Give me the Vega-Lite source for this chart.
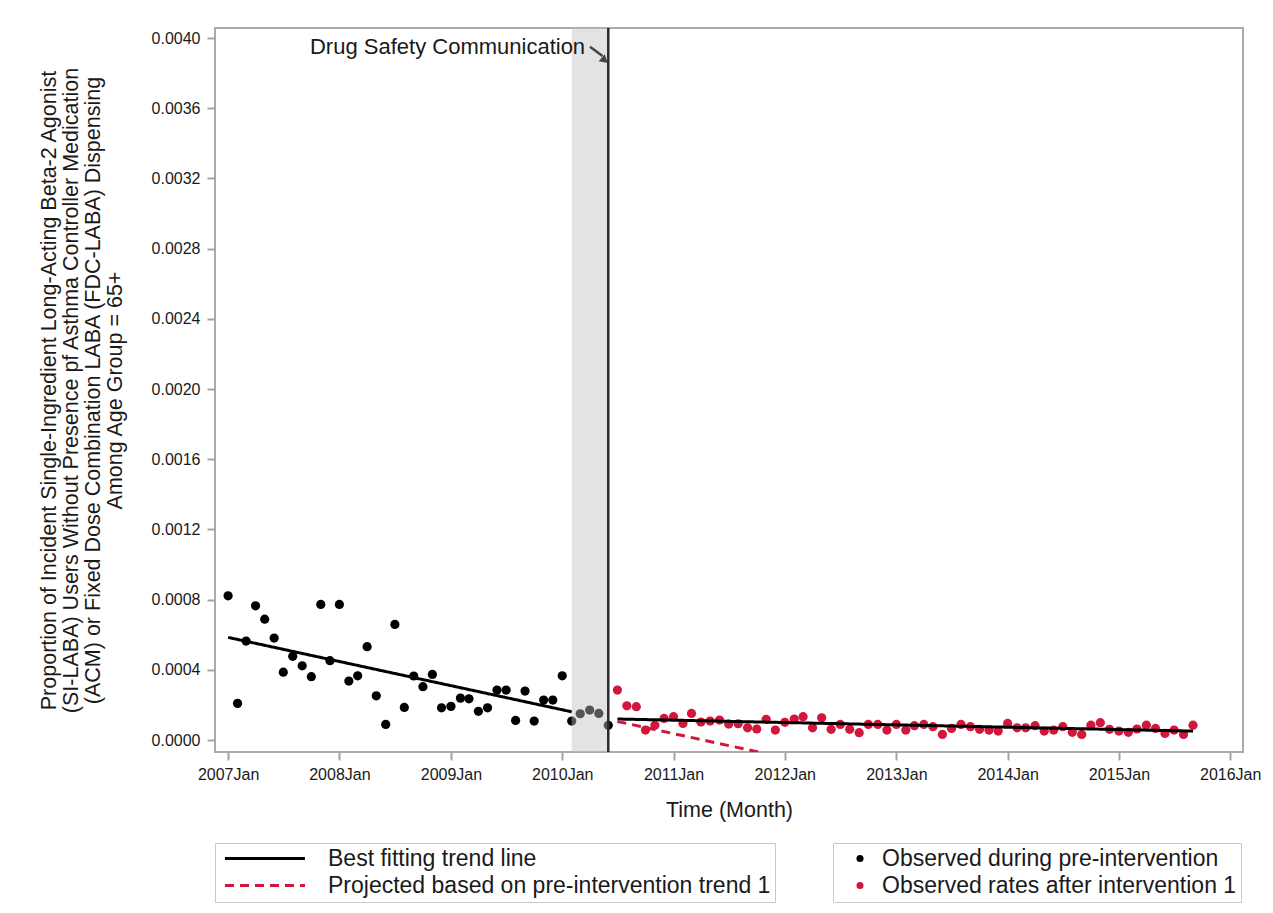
{
  "$schema": "https://vega.github.io/schema/vega-lite/v6.json",
  "width": 1028,
  "height": 724,
  "autosize": {"type": "none"},
  "padding": {"left": 215, "top": 28, "right": 30, "bottom": 161},
  "background": "white",
  "config": {
    "view": {"stroke": "#a8abb0", "strokeWidth": 2},
    "font": "Liberation Sans",
    "axis": {
      "labelFont": "Liberation Sans", "labelFontSize": 16, "labelColor": "#1a1a1a",
      "titleFont": "Liberation Sans", "titleFontSize": 21.5, "titleFontWeight": "normal", "titleColor": "#1a1a1a",
      "tickColor": "#a0a4a8", "tickSize": 8, "tickWidth": 2, "domain": false, "grid": false
    },
    "legend": {
      "labelFont": "Liberation Sans", "labelFontSize": 23, "labelColor": "#1a1a1a",
      "strokeColor": "#c8c8c8", "padding": 4, "rowPadding": 3, "labelLimit": 700
    }
  },
  "datasets": {
    "points": [
      {"date": "2007-01-01", "rate": 0.000822, "group": "Observed during pre-intervention"},
      {"date": "2007-02-01", "rate": 0.000209, "group": "Observed during pre-intervention"},
      {"date": "2007-03-01", "rate": 0.000564, "group": "Observed during pre-intervention"},
      {"date": "2007-04-01", "rate": 0.000765, "group": "Observed during pre-intervention"},
      {"date": "2007-05-01", "rate": 0.000689, "group": "Observed during pre-intervention"},
      {"date": "2007-06-01", "rate": 0.000581, "group": "Observed during pre-intervention"},
      {"date": "2007-07-01", "rate": 0.000387, "group": "Observed during pre-intervention"},
      {"date": "2007-08-01", "rate": 0.000477, "group": "Observed during pre-intervention"},
      {"date": "2007-09-01", "rate": 0.000423, "group": "Observed during pre-intervention"},
      {"date": "2007-10-01", "rate": 0.000361, "group": "Observed during pre-intervention"},
      {"date": "2007-11-01", "rate": 0.000773, "group": "Observed during pre-intervention"},
      {"date": "2007-12-01", "rate": 0.000452, "group": "Observed during pre-intervention"},
      {"date": "2008-01-01", "rate": 0.000773, "group": "Observed during pre-intervention"},
      {"date": "2008-02-01", "rate": 0.000336, "group": "Observed during pre-intervention"},
      {"date": "2008-03-01", "rate": 0.000366, "group": "Observed during pre-intervention"},
      {"date": "2008-04-01", "rate": 0.000532, "group": "Observed during pre-intervention"},
      {"date": "2008-05-01", "rate": 0.000252, "group": "Observed during pre-intervention"},
      {"date": "2008-06-01", "rate": 0.000089, "group": "Observed during pre-intervention"},
      {"date": "2008-07-01", "rate": 0.000659, "group": "Observed during pre-intervention"},
      {"date": "2008-08-01", "rate": 0.000186, "group": "Observed during pre-intervention"},
      {"date": "2008-09-01", "rate": 0.000365, "group": "Observed during pre-intervention"},
      {"date": "2008-10-01", "rate": 0.000304, "group": "Observed during pre-intervention"},
      {"date": "2008-11-01", "rate": 0.000374, "group": "Observed during pre-intervention"},
      {"date": "2008-12-01", "rate": 0.000184, "group": "Observed during pre-intervention"},
      {"date": "2009-01-01", "rate": 0.000192, "group": "Observed during pre-intervention"},
      {"date": "2009-02-01", "rate": 0.000239, "group": "Observed during pre-intervention"},
      {"date": "2009-03-01", "rate": 0.000235, "group": "Observed during pre-intervention"},
      {"date": "2009-04-01", "rate": 0.000164, "group": "Observed during pre-intervention"},
      {"date": "2009-05-01", "rate": 0.000184, "group": "Observed during pre-intervention"},
      {"date": "2009-06-01", "rate": 0.000285, "group": "Observed during pre-intervention"},
      {"date": "2009-07-01", "rate": 0.000285, "group": "Observed during pre-intervention"},
      {"date": "2009-08-01", "rate": 0.000112, "group": "Observed during pre-intervention"},
      {"date": "2009-09-01", "rate": 0.000279, "group": "Observed during pre-intervention"},
      {"date": "2009-10-01", "rate": 0.000108, "group": "Observed during pre-intervention"},
      {"date": "2009-11-01", "rate": 0.000228, "group": "Observed during pre-intervention"},
      {"date": "2009-12-01", "rate": 0.000228, "group": "Observed during pre-intervention"},
      {"date": "2010-01-01", "rate": 0.000366, "group": "Observed during pre-intervention"},
      {"date": "2010-02-01", "rate": 0.000108, "group": "Observed during pre-intervention"},
      {"date": "2010-03-01", "rate": 0.000150, "group": "Observed during pre-intervention"},
      {"date": "2010-04-01", "rate": 0.000171, "group": "Observed during pre-intervention"},
      {"date": "2010-05-01", "rate": 0.000152, "group": "Observed during pre-intervention"},
      {"date": "2010-06-01", "rate": 0.000084, "group": "Observed during pre-intervention"},
      {"date": "2010-07-01", "rate": 0.000285, "group": "Observed rates after intervention 1"},
      {"date": "2010-08-01", "rate": 0.000195, "group": "Observed rates after intervention 1"},
      {"date": "2010-09-01", "rate": 0.000190, "group": "Observed rates after intervention 1"},
      {"date": "2010-10-01", "rate": 0.000057, "group": "Observed rates after intervention 1"},
      {"date": "2010-11-01", "rate": 0.000085, "group": "Observed rates after intervention 1"},
      {"date": "2010-12-01", "rate": 0.000123, "group": "Observed rates after intervention 1"},
      {"date": "2011-01-01", "rate": 0.000133, "group": "Observed rates after intervention 1"},
      {"date": "2011-02-01", "rate": 0.000095, "group": "Observed rates after intervention 1"},
      {"date": "2011-03-01", "rate": 0.000152, "group": "Observed rates after intervention 1"},
      {"date": "2011-04-01", "rate": 0.000103, "group": "Observed rates after intervention 1"},
      {"date": "2011-05-01", "rate": 0.000108, "group": "Observed rates after intervention 1"},
      {"date": "2011-06-01", "rate": 0.000114, "group": "Observed rates after intervention 1"},
      {"date": "2011-07-01", "rate": 0.000091, "group": "Observed rates after intervention 1"},
      {"date": "2011-08-01", "rate": 0.000093, "group": "Observed rates after intervention 1"},
      {"date": "2011-09-01", "rate": 0.000070, "group": "Observed rates after intervention 1"},
      {"date": "2011-10-01", "rate": 0.000063, "group": "Observed rates after intervention 1"},
      {"date": "2011-11-01", "rate": 0.000118, "group": "Observed rates after intervention 1"},
      {"date": "2011-12-01", "rate": 0.000057, "group": "Observed rates after intervention 1"},
      {"date": "2012-01-01", "rate": 0.000101, "group": "Observed rates after intervention 1"},
      {"date": "2012-02-01", "rate": 0.000120, "group": "Observed rates after intervention 1"},
      {"date": "2012-03-01", "rate": 0.000133, "group": "Observed rates after intervention 1"},
      {"date": "2012-04-01", "rate": 0.000070, "group": "Observed rates after intervention 1"},
      {"date": "2012-05-01", "rate": 0.000127, "group": "Observed rates after intervention 1"},
      {"date": "2012-06-01", "rate": 0.000061, "group": "Observed rates after intervention 1"},
      {"date": "2012-07-01", "rate": 0.000089, "group": "Observed rates after intervention 1"},
      {"date": "2012-08-01", "rate": 0.000061, "group": "Observed rates after intervention 1"},
      {"date": "2012-09-01", "rate": 0.000042, "group": "Observed rates after intervention 1"},
      {"date": "2012-10-01", "rate": 0.000089, "group": "Observed rates after intervention 1"},
      {"date": "2012-11-01", "rate": 0.000089, "group": "Observed rates after intervention 1"},
      {"date": "2012-12-01", "rate": 0.000057, "group": "Observed rates after intervention 1"},
      {"date": "2013-01-01", "rate": 0.000089, "group": "Observed rates after intervention 1"},
      {"date": "2013-02-01", "rate": 0.000057, "group": "Observed rates after intervention 1"},
      {"date": "2013-03-01", "rate": 0.000082, "group": "Observed rates after intervention 1"},
      {"date": "2013-04-01", "rate": 0.000089, "group": "Observed rates after intervention 1"},
      {"date": "2013-05-01", "rate": 0.000076, "group": "Observed rates after intervention 1"},
      {"date": "2013-06-01", "rate": 0.000032, "group": "Observed rates after intervention 1"},
      {"date": "2013-07-01", "rate": 0.000066, "group": "Observed rates after intervention 1"},
      {"date": "2013-08-01", "rate": 0.000089, "group": "Observed rates after intervention 1"},
      {"date": "2013-09-01", "rate": 0.000076, "group": "Observed rates after intervention 1"},
      {"date": "2013-10-01", "rate": 0.000061, "group": "Observed rates after intervention 1"},
      {"date": "2013-11-01", "rate": 0.000057, "group": "Observed rates after intervention 1"},
      {"date": "2013-12-01", "rate": 0.000051, "group": "Observed rates after intervention 1"},
      {"date": "2014-01-01", "rate": 0.000095, "group": "Observed rates after intervention 1"},
      {"date": "2014-02-01", "rate": 0.000070, "group": "Observed rates after intervention 1"},
      {"date": "2014-03-01", "rate": 0.000070, "group": "Observed rates after intervention 1"},
      {"date": "2014-04-01", "rate": 0.000082, "group": "Observed rates after intervention 1"},
      {"date": "2014-05-01", "rate": 0.000051, "group": "Observed rates after intervention 1"},
      {"date": "2014-06-01", "rate": 0.000057, "group": "Observed rates after intervention 1"},
      {"date": "2014-07-01", "rate": 0.000076, "group": "Observed rates after intervention 1"},
      {"date": "2014-08-01", "rate": 0.000044, "group": "Observed rates after intervention 1"},
      {"date": "2014-09-01", "rate": 0.000032, "group": "Observed rates after intervention 1"},
      {"date": "2014-10-01", "rate": 0.000085, "group": "Observed rates after intervention 1"},
      {"date": "2014-11-01", "rate": 0.000099, "group": "Observed rates after intervention 1"},
      {"date": "2014-12-01", "rate": 0.000061, "group": "Observed rates after intervention 1"},
      {"date": "2015-01-01", "rate": 0.000051, "group": "Observed rates after intervention 1"},
      {"date": "2015-02-01", "rate": 0.000044, "group": "Observed rates after intervention 1"},
      {"date": "2015-03-01", "rate": 0.000063, "group": "Observed rates after intervention 1"},
      {"date": "2015-04-01", "rate": 0.000085, "group": "Observed rates after intervention 1"},
      {"date": "2015-05-01", "rate": 0.000066, "group": "Observed rates after intervention 1"},
      {"date": "2015-06-01", "rate": 0.000038, "group": "Observed rates after intervention 1"},
      {"date": "2015-07-01", "rate": 0.000057, "group": "Observed rates after intervention 1"},
      {"date": "2015-08-01", "rate": 0.000032, "group": "Observed rates after intervention 1"},
      {"date": "2015-09-01", "rate": 0.000085, "group": "Observed rates after intervention 1"}
    ],
    "trends": [
      {"date": "2007-01-01", "rate": 0.000585, "series": "Best fitting trend line", "segment": "pre"},
      {"date": "2010-02-01", "rate": 0.000161, "series": "Best fitting trend line", "segment": "pre"},
      {"date": "2010-07-01", "rate": 0.000120, "series": "Best fitting trend line", "segment": "post"},
      {"date": "2015-09-01", "rate": 0.000051, "series": "Best fitting trend line", "segment": "post"},
      {"date": "2010-07-01", "rate": 0.000106, "series": "Projected based on pre-intervention trend 1", "segment": "projected"},
      {"date": "2015-09-01", "rate": -0.000605, "series": "Projected based on pre-intervention trend 1", "segment": "projected"}
    ],
    "events": [
      {"start": "2010-02-01", "end": "2010-06-01"}
    ],
    "annotation": [
      {"label": "Drug Safety Communication", "date": "2010-03-17", "rate": 0.00395, "arrow_from": "2010-04-02", "arrow_to": "2010-05-13", "arrow_rate_from": 0.00395, "arrow_rate_to": 0.003898, "head_date": "2010-05-17", "head_rate": 0.003878}
    ]
  },
  "encoding": {
    "x": {
      "field": "date", "type": "temporal",
      "scale": {"type": "utc", "domain": [{"year": 2006, "month": 11, "date": 19, "utc": true}, {"year": 2016, "month": 2, "date": 12, "utc": true}]},
      "axis": {
        "title": "Time (Month)", "titlePadding": 17, "labelPadding": 6,
        "values": [
          {"year": 2007, "month": 1, "date": 1, "utc": true}, {"year": 2008, "month": 1, "date": 1, "utc": true},
          {"year": 2009, "month": 1, "date": 1, "utc": true}, {"year": 2010, "month": 1, "date": 1, "utc": true},
          {"year": 2011, "month": 1, "date": 1, "utc": true}, {"year": 2012, "month": 1, "date": 1, "utc": true},
          {"year": 2013, "month": 1, "date": 1, "utc": true}, {"year": 2014, "month": 1, "date": 1, "utc": true},
          {"year": 2015, "month": 1, "date": 1, "utc": true}, {"year": 2016, "month": 1, "date": 1, "utc": true}
        ],
        "labelExpr": "utcFormat(datum.value, '%Y') + 'Jan'"
      }
    },
    "y": {
      "field": "rate", "type": "quantitative",
      "scale": {"domain": [-0.000068, 0.004057], "nice": false, "zero": false},
      "axis": {
        "values": [0, 0.0004, 0.0008, 0.0012, 0.0016, 0.002, 0.0024, 0.0028, 0.0032, 0.0036, 0.004],
        "format": ".4f", "labelPadding": 7,
        "title": ["Proportion of Incident Single-Ingredient Long-Acting Beta-2 Agonist", "(SI-LABA) Users Without Presence pf Asthma Controller Medication", "(ACM) or Fixed Dose Combination LABA (FDC-LABA) Dispensing", "Among Age Group = 65+"],
        "titleLineHeight": 22, "titleX": -155, "titleY": 362, "titleAngle": -90, "titleAlign": "center", "titleBaseline": "bottom"
      }
    }
  },
  "layer": [
    {
      "data": {"name": "points"},
      "mark": {"type": "point", "shape": "circle", "filled": true, "size": 85, "opacity": 1, "strokeWidth": 0},
      "encoding": {
        "fill": {
          "field": "group", "type": "nominal",
          "scale": {"domain": ["Observed during pre-intervention", "Observed rates after intervention 1"], "range": ["#000000", "#d2163c"]},
          "legend": {"title": null, "orient": "none", "legendX": 618, "legendY": 815, "symbolType": "circle", "symbolSize": 50, "symbolStrokeWidth": 0, "symbolOffset": 11.5, "labelOffset": 10.5}
        }
      }
    },
    {
      "data": {"name": "events"},
      "mark": {"type": "rect", "fill": "#c0c0c0", "opacity": 0.44},
      "encoding": {
        "x": {"field": "start", "type": "temporal"},
        "x2": {"field": "end"},
        "y": null
      }
    },
    {
      "data": {"name": "trends"},
      "mark": {"type": "line", "strokeWidth": 3, "clip": true},
      "encoding": {
        "detail": {"field": "segment", "type": "nominal"},
        "stroke": {
          "field": "series", "type": "nominal",
          "scale": {"domain": ["Best fitting trend line", "Projected based on pre-intervention trend 1"], "range": ["#000000", "#d2163c"]},
          "legend": {"title": null, "orient": "none", "legendX": 0, "legendY": 815, "symbolType": "M-4,0H4", "symbolSize": 400, "symbolStrokeWidth": 3, "symbolOffset": 34.5, "labelOffset": 51.5}
        },
        "strokeDash": {
          "field": "series", "type": "nominal",
          "scale": {"domain": ["Best fitting trend line", "Projected based on pre-intervention trend 1"], "range": [[1, 0], [9, 6]]},
          "legend": {"title": null, "orient": "none", "legendX": 0, "legendY": 815, "symbolType": "M-4,0H4", "symbolSize": 400, "symbolStrokeWidth": 3, "symbolOffset": 34.5, "labelOffset": 51.5}
        }
      }
    },
    {
      "data": {"name": "events"},
      "mark": {"type": "rule", "color": "#2a2a2a", "strokeWidth": 2.5},
      "encoding": {
        "x": {"field": "end", "type": "temporal"},
        "y": null
      }
    },
    {
      "data": {"name": "annotation"},
      "mark": {"type": "text", "align": "right", "baseline": "middle", "fontSize": 22, "font": "Liberation Sans", "color": "#1a1a1a"},
      "encoding": {
        "text": {"field": "label"}
      }
    },
    {
      "data": {"name": "annotation"},
      "mark": {"type": "rule", "color": "#444444", "strokeWidth": 2.5},
      "encoding": {
        "x": {"field": "arrow_from", "type": "temporal"},
        "x2": {"field": "arrow_to"},
        "y": {"field": "arrow_rate_from", "type": "quantitative"},
        "y2": {"field": "arrow_rate_to"}
      }
    },
    {
      "data": {"name": "annotation"},
      "mark": {"type": "point", "shape": "triangle", "filled": true, "size": 85, "angle": 131, "color": "#444444", "opacity": 1},
      "encoding": {
        "x": {"field": "head_date", "type": "temporal"},
        "y": {"field": "head_rate", "type": "quantitative"}
      }
    }
  ]
}
